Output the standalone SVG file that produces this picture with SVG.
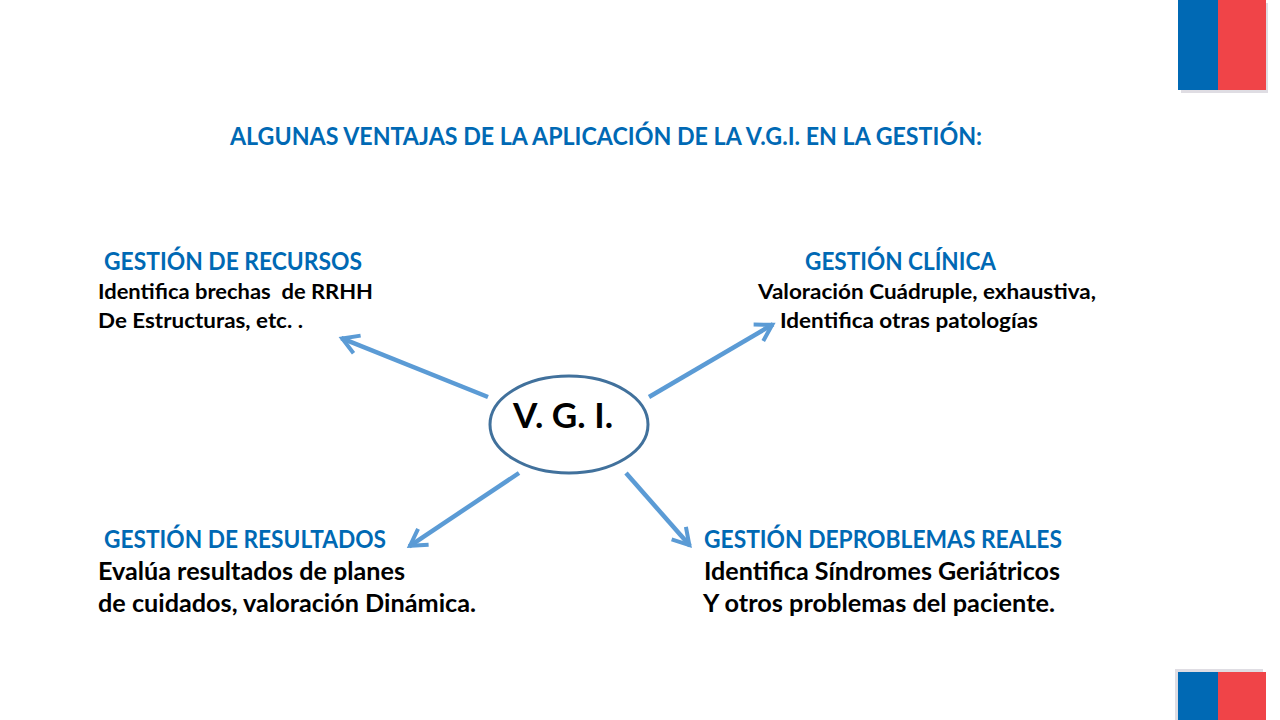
<svg xmlns="http://www.w3.org/2000/svg" width="1280" height="720" viewBox="0 0 1280 720">
<defs>
<marker id="arr" markerUnits="userSpaceOnUse" markerWidth="30" markerHeight="30" refX="21" refY="12" orient="auto" overflow="visible"><path d="M4 2.500 L20 12 L4 21.500" fill="none" stroke="#5b9bd5" stroke-width="4"/></marker>
</defs>
<style>
text{font-family:"Lato","Liberation Sans",sans-serif;font-weight:700;white-space:pre}
.h{fill:#0069b4;font-size:24px}
.s{fill:#000;font-size:21px}
.b{fill:#000;font-size:25px}
.c{stroke:#5b9bd5;stroke-width:4.500;fill:none;marker-end:url(#arr)}
</style>
<rect width="1280" height="720" fill="#fff"/>
<g id="flag-top">
<rect x="1181" y="3" width="87" height="90" fill="#dfdde3"/>
<rect x="1178" y="0" width="40" height="90" fill="#0069b4"/>
<rect x="1218" y="0" width="48" height="90" fill="#f04448"/>
</g>
<g id="flag-bottom">
<rect x="1175" y="669" width="88" height="51" fill="#dfdde3"/>
<rect x="1178" y="672" width="40" height="48" fill="#0069b4"/>
<rect x="1218" y="672" width="48" height="48" fill="#f04448"/>
</g>
<text id="title" class="h" x="230" y="145" textLength="752" lengthAdjust="spacingAndGlyphs">ALGUNAS VENTAJAS DE LA APLICACIÓN DE LA V.G.I. EN LA GESTIÓN:</text>
<g id="connectors">
<line class="c" x1="488" y1="397" x2="341.300" y2="338.100"/>
<line class="c" x1="649" y1="397" x2="773.100" y2="324.200"/>
<line class="c" x1="519" y1="473" x2="409.200" y2="546.300"/>
<line class="c" x1="626" y1="473" x2="690" y2="545.800"/>
</g>
<g id="vgi">
<ellipse cx="569" cy="424.500" rx="79" ry="48.500" fill="#fff" stroke="#41719c" stroke-width="3"/>
<text x="513" y="428" font-size="34" fill="#000" textLength="100" lengthAdjust="spacingAndGlyphs">V. G. I.</text>
</g>
<g id="recursos">
<text class="h" x="104" y="270" textLength="258" lengthAdjust="spacingAndGlyphs">GESTIÓN DE RECURSOS</text>
<text class="s" x="98" y="299" textLength="275" lengthAdjust="spacingAndGlyphs">Identifica brechas  de RRHH</text>
<text class="s" x="98" y="328" textLength="205" lengthAdjust="spacingAndGlyphs">De Estructuras, etc. .</text>
</g>
<g id="clinica">
<text class="h" x="805" y="270" textLength="191" lengthAdjust="spacingAndGlyphs">GESTIÓN CLÍNICA</text>
<text class="s" x="758" y="299" textLength="338" lengthAdjust="spacingAndGlyphs">Valoración Cuádruple, exhaustiva,</text>
<text class="s" x="780" y="328" textLength="258" lengthAdjust="spacingAndGlyphs">Identifica otras patologías</text>
</g>
<g id="resultados">
<text class="h" x="104" y="548" textLength="282" lengthAdjust="spacingAndGlyphs">GESTIÓN DE RESULTADOS</text>
<text class="b" x="98" y="580" textLength="307" lengthAdjust="spacingAndGlyphs">Evalúa resultados de planes</text>
<text class="b" x="98" y="612" textLength="378" lengthAdjust="spacingAndGlyphs">de cuidados, valoración Dinámica.</text>
</g>
<g id="problemas">
<text class="h" x="704" y="548" textLength="358" lengthAdjust="spacingAndGlyphs">GESTIÓN DEPROBLEMAS REALES</text>
<text class="b" x="704" y="580" textLength="356" lengthAdjust="spacingAndGlyphs">Identifica Síndromes Geriátricos</text>
<text class="b" x="703" y="612" textLength="352" lengthAdjust="spacingAndGlyphs">Y otros problemas del paciente.</text>
</g>
</svg>
